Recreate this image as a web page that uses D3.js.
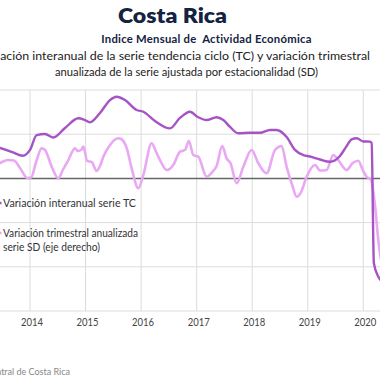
<!DOCTYPE html>
<html><head><meta charset="utf-8">
<script src="https://cdn.jsdelivr.net/npm/d3@7"></script>
<style>
html,body{margin:0;padding:0;background:#fff;}
svg{display:block;}
text{font-family:Lato,"Open Sans",sans-serif;}
</style></head>
<body>
<svg id="chart" width="380" height="380"></svg>
<script>
// ---- data ----
const yearTicks = [2013, 2014, 2015, 2016, 2017, 2018, 2019, 2020, 2021];
const tcDates = [2013.0,2013.46,2013.68,2013.87,2014.0,2014.12,2014.27,2014.42,2014.63,2014.87,2014.97,2015.08,2015.26,2015.44,2015.56,2015.71,2015.92,2016.04,2016.25,2016.52,2016.70,2016.88,2017.02,2017.18,2017.36,2017.48,2017.60,2017.75,2017.96,2018.14,2018.32,2018.44,2018.62,2018.77,2018.92,2019.04,2019.22,2019.40,2019.58,2019.69,2019.79,2019.88,2020.0,2020.12,2020.15,2020.19,2020.27,2020.35,2020.48];
const tcValues = [2.17,1.72,1.49,1.28,1.61,2.45,2.51,2.31,2.85,3.40,3.33,3.17,3.70,4.43,4.62,4.43,3.87,3.77,3.25,2.83,3.42,3.77,3.47,3.30,3.46,3.30,2.91,2.55,2.58,2.58,2.74,2.74,2.34,1.61,1.32,1.24,1.07,0.94,1.27,1.78,2.21,2.27,2.09,2.08,2.0,-4.79,-5.56,-5.86,-6.03];
const sdDates = [2013.0,2013.46,2013.60,2013.71,2013.82,2013.95,2014.02,2014.11,2014.21,2014.27,2014.40,2014.51,2014.59,2014.69,2014.81,2014.86,2014.93,2014.96,2015.03,2015.11,2015.20,2015.26,2015.32,2015.44,2015.59,2015.64,2015.74,2015.83,2015.95,2016.04,2016.19,2016.27,2016.34,2016.46,2016.58,2016.70,2016.79,2016.86,2016.94,2017.03,2017.18,2017.28,2017.36,2017.46,2017.54,2017.61,2017.72,2017.84,2017.99,2018.11,2018.26,2018.41,2018.53,2018.62,2018.72,2018.80,2018.88,2018.98,2019.13,2019.22,2019.34,2019.46,2019.55,2019.70,2019.81,2019.91,2019.99,2020.06,2020.14,2020.21,2020.27,2020.32,2020.41];
const sdValues = [0.72,1.74,2.08,2.02,1.18,0.05,0.10,1.86,3.40,3.21,1.18,0.01,0.95,2.08,3.40,3.10,3.27,3.61,1.97,1.86,0.84,1.40,2.45,3.78,4.54,4.46,3.44,1.14,-1.12,0.38,3.97,2.99,2.08,0.95,1.52,3.02,3.21,4.23,2.65,2.45,0.19,0.72,1.40,3.67,2.27,1.71,-0.55,1.32,3.21,1.71,0.58,3.21,3.67,1.32,-0.75,-2.07,-1.54,0.19,1.52,0.89,0.95,2.65,2.08,0.95,1.74,2.00,0.95,0.19,-0.18,-3.01,-6.97,-9.23,-10.9];
const leftTicks = [-7.5,-5,-2.5,0,2.5,5];
const legendLabels = [["Variación interanual serie TC"],["Variación trimestral anualizada","serie SD (eje derecho)"]];
const titleText = "Costa Rica";
const subtitleText = "Indice Mensual de  Actividad Económica";
const descLines = ["Variación interanual de la serie tendencia ciclo (TC) y variación trimestral","anualizada de la serie ajustada por estacionalidad (SD)"];
const sourceText = "Fuente: Banco Central de Costa Rica";

const svg = d3.select("#chart");
const x = d3.scaleLinear().domain([2014, 2020]).range([30, 363.3]);
const yL = d3.scaleLinear().domain([-7.5, 5]).range([311, 90]);
const yR = d3.scaleLinear().domain([-15, 10]).range([311, 90]);

const TC = "#a653c6", SD = "#e9a7f4";

function fit(sel, w) { return sel.attr("textLength", w).attr("lengthAdjust", "spacingAndGlyphs"); }

// titles
fit(svg.append("text").attr("x", 118).attr("y", 23)
  .attr("font-size", 21).attr("font-weight", 800).attr("fill", "#14233f").text(titleText), 109);
svg.append("text").attr("x", 206.5).attr("y", 42.5).attr("text-anchor", "middle")
  .style("white-space", "pre").attr("letter-spacing", 0.25)
  .attr("font-size", 11.3).attr("font-weight", 700).attr("fill", "#14233f").text(subtitleText);
fit(svg.append("text").attr("x", 370).attr("y", 60).attr("text-anchor","end")
  .attr("font-size", 11).attr("fill", "#222").text(descLines[0]), 391);
fit(svg.append("text").attr("x", 55).attr("y", 76)
  .attr("font-size", 11).attr("fill", "#222").text(descLines[1]), 263);

// grid
const g = svg.append("g");
g.selectAll("line.h").data(leftTicks.filter(d => d !== 0)).join("line")
  .attr("x1", -30).attr("x2", 400).attr("y1", d => yL(d)).attr("y2", d => yL(d))
  .attr("stroke", "#dcdcdc").attr("stroke-width", 1);
g.selectAll("line.v").data(yearTicks).join("line")
  .attr("x1", d => x(d)).attr("x2", d => x(d)).attr("y1", 90).attr("y2", 311)
  .attr("stroke", "#dcdcdc").attr("stroke-width", 1);

// x axis labels
const xAxis = d3.axisBottom(x).tickValues(yearTicks).tickSize(0).tickPadding(0).tickFormat(d3.format("d"));
const ax = svg.append("g").attr("transform", "translate(1.5,319)").call(xAxis);
ax.select(".domain").remove();
ax.selectAll("text").attr("font-size", 10.5).attr("fill", "#444").attr("font-family","Lato, sans-serif")
  .attr("textLength", 22).attr("lengthAdjust", "spacingAndGlyphs");

// zero line
svg.append("line").attr("x1", -30).attr("x2", 400).attr("y1", yL(0)).attr("y2", yL(0))
  .attr("stroke", "#666").attr("stroke-width", 1.5);

// lines
const tcData = tcDates.map((d,i) => [d, tcValues[i]]);
const sdData = sdDates.map((d,i) => [d, sdValues[i]]);
svg.append("path").datum(sdData)
  .attr("d", d3.line().x(d => x(d[0])).y(d => yR(d[1])).curve(d3.curveMonotoneX))
  .attr("fill","none").attr("stroke", SD).attr("stroke-width", 2.6);
svg.append("path").datum(tcData)
  .attr("d", d3.line().x(d => x(d[0])).y(d => yL(d[1])).curve(d3.curveMonotoneX))
  .attr("fill","none").attr("stroke", TC).attr("stroke-width", 2.4);

// legend
const leg = svg.append("g");
leg.append("line").attr("x1", -20).attr("x2", 1.5).attr("y1", 203).attr("y2", 203).attr("stroke", TC).attr("stroke-width", 2.4);
leg.append("line").attr("x1", -20).attr("x2", 1.5).attr("y1", 233).attr("y2", 233).attr("stroke", SD).attr("stroke-width", 2.4);
fit(leg.append("text").attr("x", 3).attr("y", 207).attr("font-size", 10.5).attr("fill", "#333").text(legendLabels[0][0]), 133);
fit(leg.append("text").attr("x", 3).attr("y", 237).attr("font-size", 10.5).attr("fill", "#333").text(legendLabels[1][0]), 135);
fit(leg.append("text").attr("x", 3).attr("y", 251).attr("font-size", 10.5).attr("fill", "#333").text(legendLabels[1][1]), 97);

// source
svg.append("text").attr("x", 70).attr("y", 375).attr("text-anchor","end")
  .attr("font-size", 9).attr("fill", "#888").text(sourceText);
</script>
</body></html>
